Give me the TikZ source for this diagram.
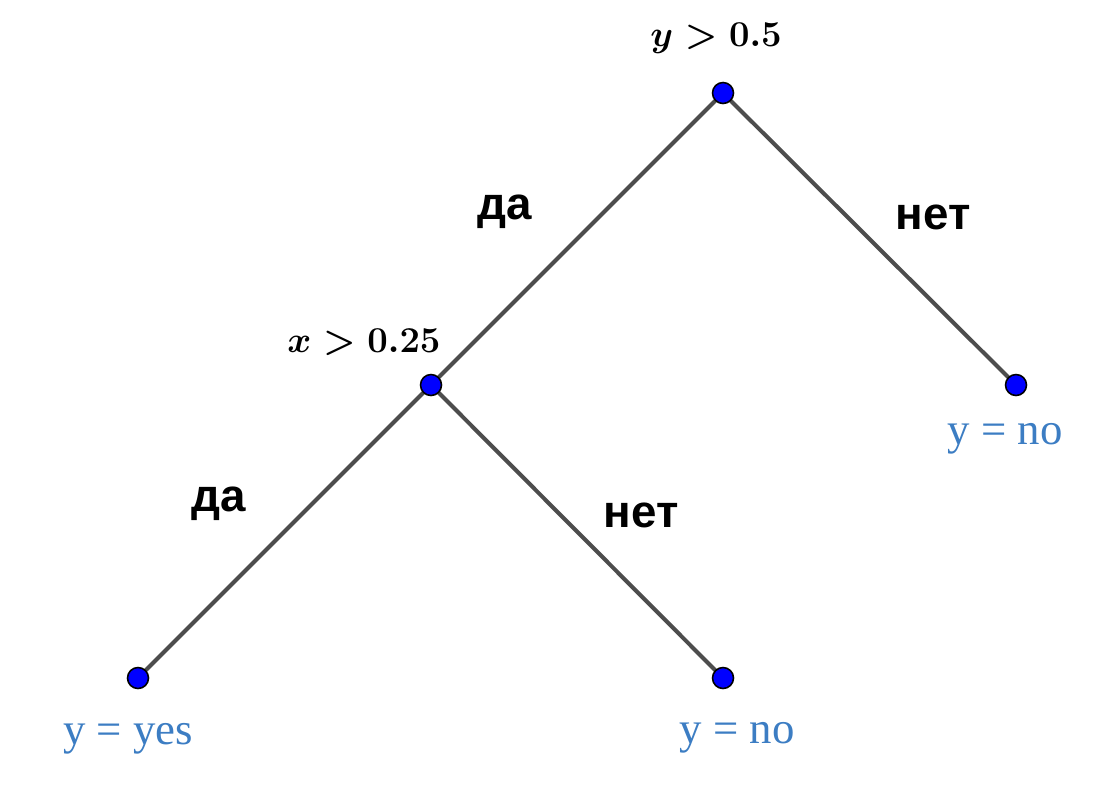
\documentclass[tikz,border=0pt]{standalone}
\usepackage{fontspec}
\newfontfamily\labfont{Liberation Sans}
\newfontfamily\leaffont{Liberation Serif}
\definecolor{edgegray}{RGB}{77,77,77}
\definecolor{leafblue}{RGB}{60,125,195}
\definecolor{dotblue}{RGB}{0,0,255}
\begin{document}
\begin{tikzpicture}[x=0.02cm,y=-0.02cm,
  dot/.style={circle,draw=black,line width=0.9pt,fill=dotblue,minimum size=0.42cm,inner sep=0pt},
  edge/.style={draw=edgegray,line width=2.3pt},
  ans/.style={font=\labfont\bfseries\fontsize{26}{30}\selectfont,inner sep=0pt},
  cond/.style={font=\boldmath\fontsize{20}{24}\selectfont,inner sep=0pt},
  leaf/.style={font=\leaffont\fontsize{25.5}{30}\selectfont,text=leafblue,inner sep=0pt}]
\useasboundingbox (0,0) rectangle (1118,785);
\coordinate (r) at (723,93);
\coordinate (m) at (431,385);
\coordinate (rl) at (1016,385);
\coordinate (ll) at (138,678);
\coordinate (ml) at (723,678);
\draw[edge] (r) -- (m);
\draw[edge] (r) -- (rl);
\draw[edge] (m) -- (ll);
\draw[edge] (m) -- (ml);
\node[dot] (nr) at (r) {};
\node[dot] (nm) at (m) {};
\node[dot] (nrl) at (rl) {};
\node[dot] (nll) at (ll) {};
\node[dot] (nml) at (ml) {};
\node[cond] (c1) at (716,38) {$y > 0.5$};
\node[cond] (c2) at (364,342) {$x > 0.25$};
\node[ans] (a1) at (505,212) {да};
\node[ans] (a2) at (933,217) {нет};
\node[ans] (a3) at (219,504) {да};
\node[ans] (a4) at (641,515) {нет};
\node[leaf] (l1) at (1005,439) {y = no};
\node[leaf] (l2) at (128,739) {y = yes};
\node[leaf] (l3) at (737,738) {y = no};
\end{tikzpicture}
\end{document}
